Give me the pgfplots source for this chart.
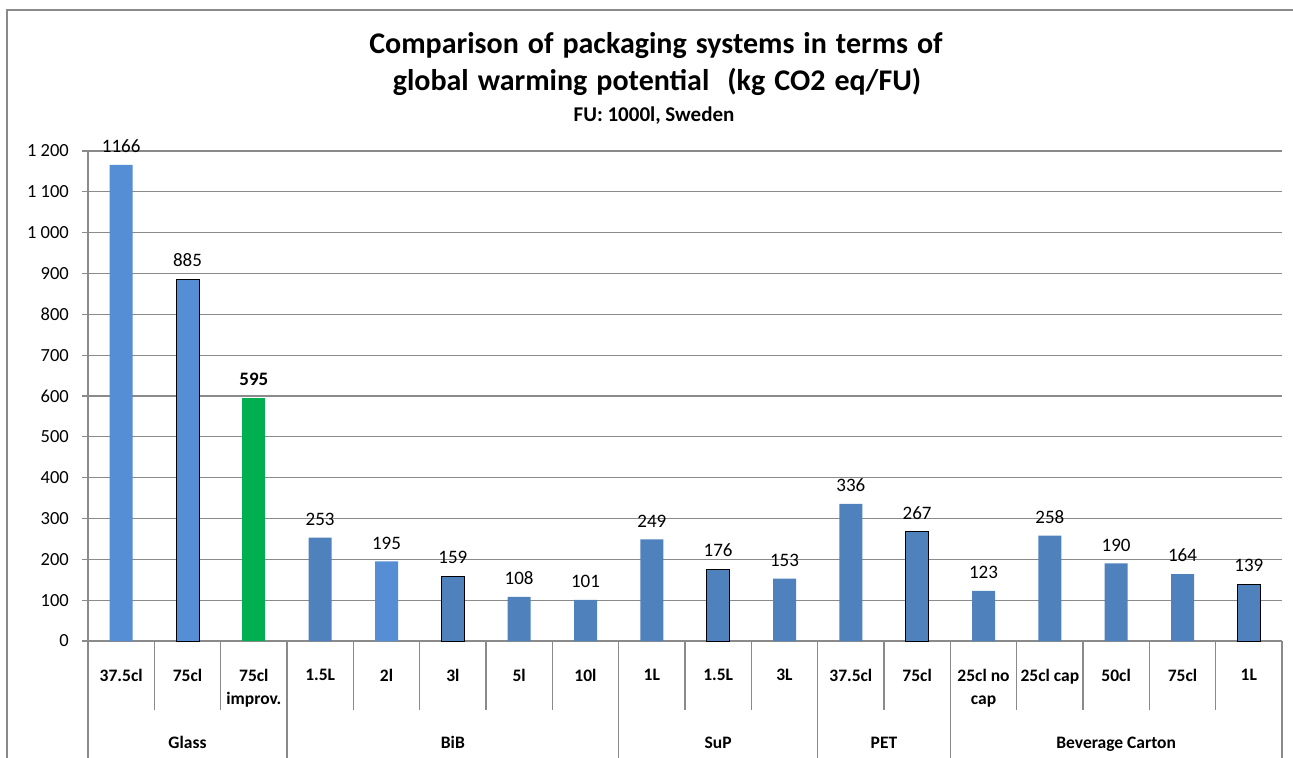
\documentclass[border=0pt]{standalone}
\usepackage{fontspec}
\setmainfont{Carlito}
\usepackage{pgfplots}
\pgfplotsset{compat=1.18}
\definecolor{lightbar}{HTML}{558ED5}
\definecolor{darkbar}{HTML}{4F81BD}
\definecolor{greenbar}{HTML}{00B050}
\definecolor{gridgray}{HTML}{8A8A8A}
\begin{document}
\begin{tikzpicture}
\path[use as bounding box] (0,0) rectangle (1293bp,758bp);
\draw[gridgray, line width=1.2bp] (7bp,0) -- (7bp,748bp) -- (1293bp,748bp);
\node[font=\fontsize{30bp}{34bp}\selectfont\bfseries, anchor=base] at (656bp,704bp) {\spaceskip=0.3em\relax Comparison of packaging systems in terms of};
\node[font=\fontsize{30bp}{34bp}\selectfont\bfseries, anchor=base] at (657bp,667bp) {\spaceskip=0.3em\relax global warming potential\ \ (kg CO2 eq/FU)};
\node[font=\fontsize{21bp}{24bp}\selectfont\bfseries, anchor=base] at (654bp,636bp) {FU: 1000l, Sweden};
\begin{axis}[
  at={(88bp,117bp)}, anchor=south west,
  scale only axis, width=1194bp, height=490bp,
  xmin=-0.5, xmax=17.5, ymin=0, ymax=1200,
  clip=false,
  ybar, bar width=23bp, bar shift=0pt,
  axis x line*=bottom, axis y line*=left,
  axis line style={gridgray, line width=1.2bp},
  ytick={0,100,...,1200},
  ymajorgrids, grid style={gridgray, line width=1.2bp},
  tick style={gridgray, line width=1.2bp},
  tick align=outside, major tick length=6bp,
  xtick style={draw=none},
  /pgf/number format/assume math mode=true,
  /pgf/number format/1000 sep={\ },
  yticklabel style={font=\fontsize{18.5bp}{22bp}\selectfont, inner sep=0pt, xshift=-13bp},
  xtick={0,...,17},
  xticklabels={37.5cl,75cl,{75cl\\improv.},1.5L,2l,3l,5l,10l,1L,1.5L,3L,37.5cl,75cl,{25cl no\\cap},25cl cap,50cl,75cl,1L},
  xticklabel style={font=\fontsize{17.5bp}{23bp}\selectfont\bfseries, align=center, anchor=north, inner sep=0pt, yshift=-22bp},
  nodes near coords={\pgfmathprintnumber[1000 sep={}]{\pgfplotspointmeta}},
  nodes near coords style={font=\fontsize{19bp}{22bp}\selectfont, anchor=south, inner sep=0pt, yshift=12bp},
]
\addplot[fill=lightbar, draw=none] coordinates {(0,1166) (4,195)};
\addplot[fill=lightbar, draw=black, line width=1bp] coordinates {(1,885)};
\addplot[fill=greenbar, draw=none, nodes near coords style={font=\fontsize{19bp}{22bp}\selectfont\bfseries}] coordinates {(2,595)};
\addplot[fill=darkbar, draw=none] coordinates {(3,253) (6,108) (7,101) (8,249) (10,153) (11,336) (13,123) (14,258) (15,190) (16,164)};
\addplot[fill=darkbar, draw=black, line width=1bp] coordinates {(5,159) (9,176) (12,267) (17,139)};
\pgfplotsinvokeforeach{0.5,1.5,3.5,4.5,5.5,6.5,8.5,9.5,11.5,13.5,14.5,15.5,16.5}{
  \draw[gridgray, line width=1.2bp] (axis cs:#1,0) -- ([yshift=-69bp]axis cs:#1,0);
}
\pgfplotsinvokeforeach{-0.5,2.5,7.5,10.5,12.5,17.5}{
  \draw[gridgray, line width=1.2bp] (axis cs:#1,0) -- ([yshift=-117bp]axis cs:#1,0);
}
\node[font=\fontsize{17.5bp}{22bp}\selectfont\bfseries, anchor=base] at ([yshift=-107bp]axis cs:1,0) {Glass};
\node[font=\fontsize{17.5bp}{22bp}\selectfont\bfseries, anchor=base] at ([yshift=-107bp]axis cs:5,0) {BiB};
\node[font=\fontsize{17.5bp}{22bp}\selectfont\bfseries, anchor=base] at ([yshift=-107bp]axis cs:9,0) {SuP};
\node[font=\fontsize{17.5bp}{22bp}\selectfont\bfseries, anchor=base] at ([yshift=-107bp]axis cs:11.5,0) {PET};
\node[font=\fontsize{17.5bp}{22bp}\selectfont\bfseries, anchor=base] at ([yshift=-107bp]axis cs:15,0) {Beverage Carton};
\end{axis}
\end{tikzpicture}
\end{document}
